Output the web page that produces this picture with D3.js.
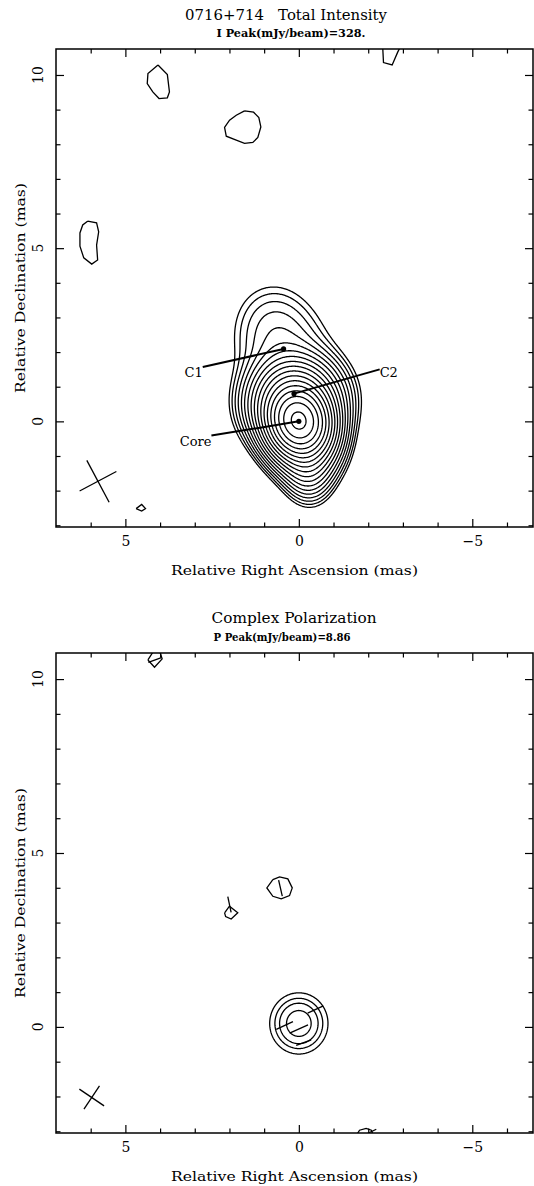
<!DOCTYPE html>
<html>
<head>
<meta charset="utf-8">
<script src="https://cdn.jsdelivr.net/npm/d3@7"></script>
<style>
    body { margin: 0; background: #fff; }
    svg text { font-family: "DejaVu Serif", serif; fill: #000; }
</style>
</head>
<body>
<div id="chart"></div>
<script>
// map extent, relative RA / Dec in mas
const raDomain = [7.0, -6.75]
const decDomain = [-3.05, 10.75]

const raMajor = [5, 0, -5]
const raLabels = ["5", "0", "\u22125"]
const raMinor = [-6, -4, -3, -2, -1, 1, 2, 3, 4, 6]
const decMajor = [0, 5, 10]
const decLabels = ["0", "5", "10"]
const decMinor = [-3, -2, -1, 1, 2, 3, 4, 6, 7, 8, 9]

// Stokes I brightness, model components: ra, dec, peak (mJy/beam), sigma along PA, sigma across PA (mas), PA (deg)
const iComponents = [
    [0.00, 0.00, 195, 0.45, 0.40, 15],
    [0.00, 0.00, 110, 0.68, 0.50, 15],
    [-0.25, -1.30, 7, 0.55, 0.38, 5],
    [0.10, 0.60, 30, 0.65, 0.70, 15],
    [0.44, 2.09, 2.2, 0.75, 0.80, 10],
    [0.75, 2.90, 1.6, 0.75, 0.70, 10]
]
// contour levels, mJy/beam
const iLevels = [0.8, 1.13, 1.6, 2.26, 3.2, 4.5, 6.4, 9.05, 12.8, 18.1, 25.6, 36.2, 51.2, 72.4, 102, 145, 205, 290]

// isolated lowest-level islands, [ra, dec]
const iIslands = [
    [[4.06, 10.29], [3.79, 10.01], [3.73, 9.51], [3.79, 9.34], [4.03, 9.32], [4.21, 9.51], [4.37, 9.75], [4.35, 10.04], [4.06, 10.29]],
    [[1.565, 8.963], [1.305, 8.925], [1.153, 8.772], [1.095, 8.501], [1.182, 8.196], [1.326, 8.052], [1.565, 8.023], [1.804, 8.118], [2.092, 8.233], [2.141, 8.484], [1.997, 8.695], [1.804, 8.839], [1.565, 8.963]],
    [[-2.41, 11.0], [-2.42, 10.76], [-2.44, 10.36], [-2.69, 10.29], [-2.85, 10.66], [-2.90, 10.76], [-2.95, 11.0]],
    [[6.09, 5.78], [5.83, 5.73], [5.77, 5.47], [5.83, 5.09], [5.80, 4.66], [5.97, 4.54], [6.20, 4.72], [6.31, 5.06], [6.31, 5.44], [6.23, 5.67], [6.09, 5.78]],
    [[4.69, -2.52], [4.53, -2.40], [4.42, -2.52], [4.53, -2.59], [4.69, -2.52]]
]

// marked components: name, ra, dec, label anchor ra, label anchor dec
const iMarkers = [
    ["C1", 0.44, 2.09, 2.77, 1.57],
    ["C2", 0.14, 0.80, -2.33, 1.50],
    ["Core", 0.00, 0.00, 2.52, -0.41]
]

// restoring beams: ra, dec, major, minor (mas), PA (deg)
const iBeam = [5.79, -1.73, 1.37, 1.20, 28]
const pBeam = [5.97, -2.03, 0.86, 0.80, 56]

// polarized intensity
const pComponents = [
    [0.00, 0.10, 8.86, 0.44, 0.42, 0]
]
const pLevels = [1.2, 2.3, 3.7, 6.2]
const pIslands = [
    [[0.749, 4.236], [0.556, 4.314], [0.317, 4.256], [0.190, 3.997], [0.268, 3.775], [0.507, 3.680], [0.749, 3.755], [0.922, 3.997], [0.749, 4.236]],
    [[2.14, 3.28], [2.00, 3.47], [1.76, 3.28], [1.95, 3.10], [2.11, 3.17], [2.14, 3.28]],
    [[4.35, 10.55], [4.19, 10.80], [4.01, 10.80], [3.94, 10.58], [4.16, 10.34], [4.35, 10.55]],
    [[-1.68, -3.2], [-1.70, -3.05], [-1.75, -2.97], [-1.94, -2.92], [-2.09, -2.97], [-2.12, -3.05], [-2.14, -3.2]]
]
// E-vectors: ra, dec, length (mas), PA (deg)
const pVectors = [
    [0.41, 0.04, 0.53, -65],
    [-0.48, 0.50, 0.50, -65],
    [0.00, -0.06, 0.58, -66],
    [-0.14, -0.45, 0.46, -70],
    [0.53, 3.99, 0.47, 13],
    [2.00, 3.52, 0.46, 12],
    [4.15, 10.55, 0.40, -70],
    [-2.11, -3.00, 0.27, -65]
]

const panels = [
    {
        top: 49, bottom: 527,
        title: "0716+714   Total Intensity", titleX: 286, titleY: 20, titleLen: 202,
        sub: "I Peak(mJy/beam)=328.", subX: 291, subY: 37, subLen: 149,
        comps: iComponents, levels: iLevels, islands: iIslands, beam: iBeam,
        grid: { raMax: 3.5, raMin: -3.5, decMax: 5.0, decMin: -4.0 }
    },
    {
        top: 653, bottom: 1133,
        title: "Complex Polarization", titleX: 294, titleY: 623, titleLen: 165,
        sub: "P Peak(mJy/beam)=8.86", subX: 282, subY: 641, subLen: 137,
        comps: pComponents, levels: pLevels, islands: pIslands, beam: pBeam,
        grid: { raMax: 1.8, raMin: -1.8, decMax: 1.9, decMin: -1.7 }
    }
]

const left = 56, right = 533
const svg = d3.select("#chart").append("svg")
    .attr("width", 534)
    .attr("height", 1186)

function field(comps, ra, dec) {
    let s = 0
    comps.forEach(c => {
        const pa = c[5] * Math.PI / 180
        const dx = ra - c[0], dy = dec - c[1]
        const u = dx * Math.sin(pa) + dy * Math.cos(pa)
        const v = dx * Math.cos(pa) - dy * Math.sin(pa)
        s += c[2] * Math.exp(-0.5 * ((u / c[3]) ** 2 + (v / c[4]) ** 2))
    })
    return s
}

panels.forEach((p, idx) => {
    const xScale = d3.scaleLinear().domain(raDomain).range([left, right])
    const yScale = d3.scaleLinear().domain(decDomain).range([p.bottom, p.top])
    const g = svg.append("g")

    const clipId = "clip" + idx
    g.append("defs").append("clipPath")
        .attr("id", clipId)
        .append("rect")
        .attr("x", left).attr("y", p.top)
        .attr("width", right - left).attr("height", p.bottom - p.top)

    const plot = g.append("g").attr("clip-path", `url(#${clipId})`)

    // gridded model -> contours
    const step = 0.025
    const gr = p.grid
    const nx = Math.round((gr.raMax - gr.raMin) / step) + 1
    const ny = Math.round((gr.decMax - gr.decMin) / step) + 1
    const values = new Float64Array(nx * ny)
    for (let j = 0; j < ny; j++) {
        for (let i = 0; i < nx; i++) {
            values[i + j * nx] = field(p.comps, gr.raMax - i * step, gr.decMax - j * step)
        }
    }
    const contours = d3.contours().size([nx, ny]).thresholds(p.levels)(values)
    const proj = d3.geoTransform({
        point: function (x, y) {
            this.stream.point(xScale(gr.raMax - (x - 0.5) * step), yScale(gr.decMax - (y - 0.5) * step))
        }
    })
    plot.append("g").selectAll("path")
        .data(contours)
        .enter()
        .append("path")
        .attr("d", d3.geoPath(proj))
        .attr("fill", "none")
        .attr("stroke", "#000")
        .attr("stroke-width", 1.3)
        .attr("stroke-linejoin", "round")

    const line = d3.line().x(d => xScale(d[0])).y(d => yScale(d[1]))
    plot.append("g").selectAll("path")
        .data(p.islands)
        .enter()
        .append("path")
        .attr("d", line)
        .attr("fill", "none")
        .attr("stroke", "#000")
        .attr("stroke-width", 1.3)

    // beam cross
    const b = p.beam
    const bpa = b[4] * Math.PI / 180
    const axes = [[b[2], bpa], [b[3], bpa + Math.PI / 2]]
    plot.append("g").selectAll("line")
        .data(axes)
        .enter()
        .append("line")
        .attr("x1", d => xScale(b[0] + d[0] / 2 * Math.sin(d[1])))
        .attr("y1", d => yScale(b[1] + d[0] / 2 * Math.cos(d[1])))
        .attr("x2", d => xScale(b[0] - d[0] / 2 * Math.sin(d[1])))
        .attr("y2", d => yScale(b[1] - d[0] / 2 * Math.cos(d[1])))
        .attr("stroke", "#000")
        .attr("stroke-width", 1.3)

    if (idx === 0) {
        const mk = g.append("g")
        mk.selectAll("line")
            .data(iMarkers)
            .enter()
            .append("line")
            .attr("x1", d => xScale(d[1])).attr("y1", d => yScale(d[2]))
            .attr("x2", d => xScale(d[3])).attr("y2", d => yScale(d[4]))
            .attr("stroke", "#000")
            .attr("stroke-width", 2)
        mk.selectAll("circle")
            .data(iMarkers)
            .enter()
            .append("circle")
            .attr("cx", d => xScale(d[1])).attr("cy", d => yScale(d[2]))
            .attr("r", 2.6)
        mk.selectAll("text")
            .data(iMarkers)
            .enter()
            .append("text")
            .attr("x", d => xScale(d[3]))
            .attr("y", d => yScale(d[4]) + (d[3] < 0 ? 8 : 10))
            .attr("text-anchor", d => d[3] < 0 ? "start" : "end")
            .attr("font-size", 13)
            .text(d => d[0])
    } else {
        plot.append("g").selectAll("line")
            .data(pVectors)
            .enter()
            .append("line")
            .attr("x1", d => xScale(d[0] + d[2] / 2 * Math.sin(d[3] * Math.PI / 180)))
            .attr("y1", d => yScale(d[1] + d[2] / 2 * Math.cos(d[3] * Math.PI / 180)))
            .attr("x2", d => xScale(d[0] - d[2] / 2 * Math.sin(d[3] * Math.PI / 180)))
            .attr("y2", d => yScale(d[1] - d[2] / 2 * Math.cos(d[3] * Math.PI / 180)))
            .attr("stroke", "#000")
            .attr("stroke-width", 1.3)
    }

    // frame and ticks
    g.append("rect")
        .attr("x", left).attr("y", p.top)
        .attr("width", right - left).attr("height", p.bottom - p.top)
        .attr("fill", "none")
        .attr("stroke", "#000")
        .attr("stroke-width", 1.5)

    const tickAxes = [
        [d3.axisBottom(xScale), `translate(0,${p.bottom})`, raMajor, raMinor],
        [d3.axisTop(xScale), `translate(0,${p.top})`, raMajor, raMinor],
        [d3.axisLeft(yScale), `translate(${left},0)`, decMajor, decMinor],
        [d3.axisRight(yScale), `translate(${right},0)`, decMajor, decMinor]
    ]
    tickAxes.forEach((t, k) => {
        g.append("g")
            .attr("transform", t[1])
            .call(t[0].tickValues(t[3]).tickSize(-4.5).tickFormat(""))
            .call(a => a.select(".domain").remove())
            .selectAll("line").attr("stroke-width", 1.2)
        const major = k === 0 ? t[0].tickValues(t[2]).tickSize(-8).tickPadding(9).tickFormat((d, i) => raLabels[i])
            : t[0].tickValues(t[2]).tickSize(-8).tickFormat("")
        g.append("g")
            .attr("transform", t[1])
            .call(major)
            .call(a => a.select(".domain").remove())
            .attr("font-family", null)
            .attr("font-size", 14)
            .selectAll("line").attr("stroke-width", 1.2)
    })

    g.append("g").selectAll("text")
        .data(decMajor)
        .enter()
        .append("text")
        .attr("transform", d => `translate(43,${yScale(d)}) rotate(-90)`)
        .attr("text-anchor", "middle")
        .attr("font-size", 14)
        .text((d, i) => decLabels[i])

    g.append("text")
        .attr("x", p.titleX).attr("y", p.titleY)
        .attr("text-anchor", "middle")
        .attr("font-size", 14)
        .attr("textLength", p.titleLen)
        .attr("lengthAdjust", "spacingAndGlyphs")
        .style("white-space", "pre")
        .text(p.title)
    g.append("text")
        .attr("x", p.subX).attr("y", p.subY)
        .attr("text-anchor", "middle")
        .attr("font-size", 10.5)
        .attr("font-weight", "bold")
        .attr("textLength", p.subLen)
        .attr("lengthAdjust", "spacingAndGlyphs")
        .text(p.sub)
    g.append("text")
        .attr("x", (left + right) / 2).attr("y", p.bottom + 48)
        .attr("text-anchor", "middle")
        .attr("font-size", 13.5)
        .attr("textLength", 247)
        .attr("lengthAdjust", "spacingAndGlyphs")
        .text("Relative Right Ascension (mas)")
    g.append("text")
        .attr("transform", `translate(25,${(p.top + p.bottom) / 2}) rotate(-90)`)
        .attr("text-anchor", "middle")
        .attr("font-size", 13.5)
        .attr("textLength", 210)
        .attr("lengthAdjust", "spacingAndGlyphs")
        .text("Relative Declination (mas)")
})
</script>
</body>
</html>
